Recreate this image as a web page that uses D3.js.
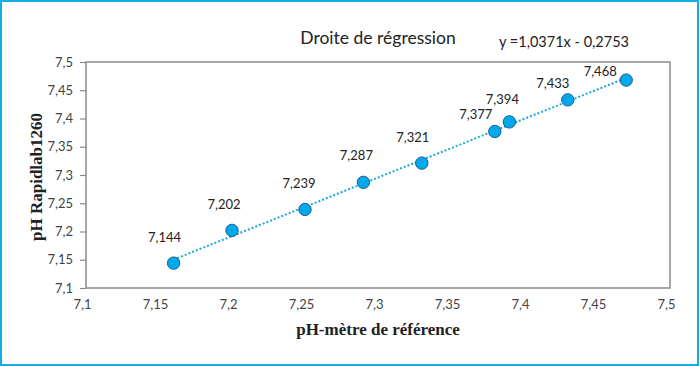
<!DOCTYPE html>
<html>
<head>
<meta charset="utf-8">
<script src="https://cdn.jsdelivr.net/npm/d3@7"></script>
<style>
  body { margin: 0; background: #fff; }
  svg { display: block; }
</style>
</head>
<body>
<svg id="chart" width="700" height="367"></svg>
<script>
// pH reference meter (x) vs Rapidlab1260 (y)
var refPh = [7.16, 7.20, 7.25, 7.29, 7.33, 7.38, 7.39, 7.43, 7.47];
var rapidPh = [7.144, 7.202, 7.239, 7.287, 7.321, 7.377, 7.394, 7.433, 7.468];
var xTicks = [7.1, 7.15, 7.2, 7.25, 7.3, 7.35, 7.4, 7.45, 7.5];
var yTicks = [7.1, 7.15, 7.2, 7.25, 7.3, 7.35, 7.4, 7.45, 7.5];
var slope = 1.0371, intercept = -0.2753;

// label nudges (px) per point, as placed in the original
var labelDx = [-9, -8, -6, -7, -9, -19, -7, -15, -26];
var labelDy = [-21, -21, -21, -22, -21, -12, -18, -12, -4];

var svg = d3.select('#chart');
var margin = { left: 86, top: 62, right: 30, bottom: 80 };
var W = 700, H = 367;

var x = d3.scaleLinear().domain([7.1, 7.5]).range([margin.left, W - margin.right]);
var y = d3.scaleLinear().domain([7.1, 7.5]).range([H - margin.bottom + 1, margin.top]);

var fmt = function (v) { return String(+v.toFixed(4)).replace('.', ','); };

// outer frame
svg.append('rect')
  .attr('x', 1).attr('y', 1).attr('width', 697).attr('height', 364)
  .attr('fill', '#fff').attr('stroke', '#11aee6').attr('stroke-width', 2);

// plot frame
svg.append('rect')
  .attr('x', x(7.1)).attr('y', y(7.5))
  .attr('width', x(7.5) - x(7.1)).attr('height', y(7.1) - y(7.5))
  .attr('fill', 'none').attr('stroke', '#8a8a8a').attr('stroke-width', 1.5);

// y axis
var yAxis = svg.append('g')
  .attr('transform', 'translate(' + x(7.1) + ',0)')
  .call(d3.axisLeft(y).tickValues(yTicks).tickFormat(fmt).tickSize(6).tickPadding(7));
yAxis.select('.domain').remove();
yAxis.selectAll('line').attr('stroke', '#8a8a8a').attr('stroke-width', 1.2);
yAxis.selectAll('text')
  .attr('font-family', 'Lato, "Open Sans", sans-serif')
  .attr('font-size', 13).attr('fill', '#444');

// x axis
var xAxis = svg.append('g')
  .attr('transform', 'translate(0,' + y(7.1) + ')')
  .call(d3.axisBottom(x).tickValues(xTicks).tickFormat(fmt).tickSize(0).tickPadding(12));
xAxis.select('.domain').remove();
xAxis.selectAll('text')
  .attr('dx', -4)
  .attr('font-family', 'Lato, "Open Sans", sans-serif')
  .attr('font-size', 13).attr('fill', '#444');

// regression line
var xr = d3.extent(refPh);
svg.append('line')
  .attr('x1', x(xr[0])).attr('y1', y(slope * xr[0] + intercept))
  .attr('x2', x(xr[1])).attr('y2', y(slope * xr[1] + intercept))
  .attr('stroke', '#1aa7e6').attr('stroke-width', 2)
  .attr('stroke-dasharray', '2,2');

var pts = refPh.map(function (d, i) { return { x: d, y: rapidPh[i], i: i }; });

svg.selectAll('.dot')
  .data(pts).enter().append('circle')
  .attr('class', 'dot')
  .attr('cx', function (d) { return x(d.x); })
  .attr('cy', function (d) { return y(d.y); })
  .attr('r', 6.2)
  .attr('fill', '#00a9ec')
  .attr('stroke', '#1f5f86').attr('stroke-width', 1);

svg.selectAll('.lbl')
  .data(pts).enter().append('text')
  .attr('class', 'lbl')
  .attr('x', function (d) { return x(d.x) + labelDx[d.i]; })
  .attr('y', function (d) { return y(d.y) + labelDy[d.i]; })
  .attr('text-anchor', 'middle')
  .attr('font-family', 'Lato, "Open Sans", sans-serif')
  .attr('font-size', 13).attr('fill', '#222')
  .text(function (d) { return fmt(d.y); });

// titles
svg.append('text')
  .attr('x', 378).attr('y', 44).attr('text-anchor', 'middle')
  .attr('font-family', 'Lato, "Open Sans", sans-serif')
  .attr('font-size', 17.5).attr('fill', '#222')
  .text('Droite de régression');

svg.append('text')
  .attr('x', 564).attr('y', 47).attr('text-anchor', 'middle')
  .attr('font-family', 'Lato, "Open Sans", sans-serif')
  .attr('font-size', 14.5).attr('fill', '#222')
  .text('y =' + fmt(slope) + 'x - ' + fmt(-intercept));

svg.append('text')
  .attr('x', 378).attr('y', 335).attr('text-anchor', 'middle')
  .attr('font-family', '"Liberation Serif", serif').attr('font-weight', 'bold')
  .attr('font-size', 17).attr('fill', '#222')
  .text('pH-mètre de référence');

svg.append('text')
  .attr('transform', 'translate(42,177) rotate(-90)')
  .attr('text-anchor', 'middle')
  .attr('font-family', '"Liberation Serif", serif').attr('font-weight', 'bold')
  .attr('font-size', 17).attr('fill', '#222')
  .text('pH Rapidlab1260');
</script>
</body>
</html>
